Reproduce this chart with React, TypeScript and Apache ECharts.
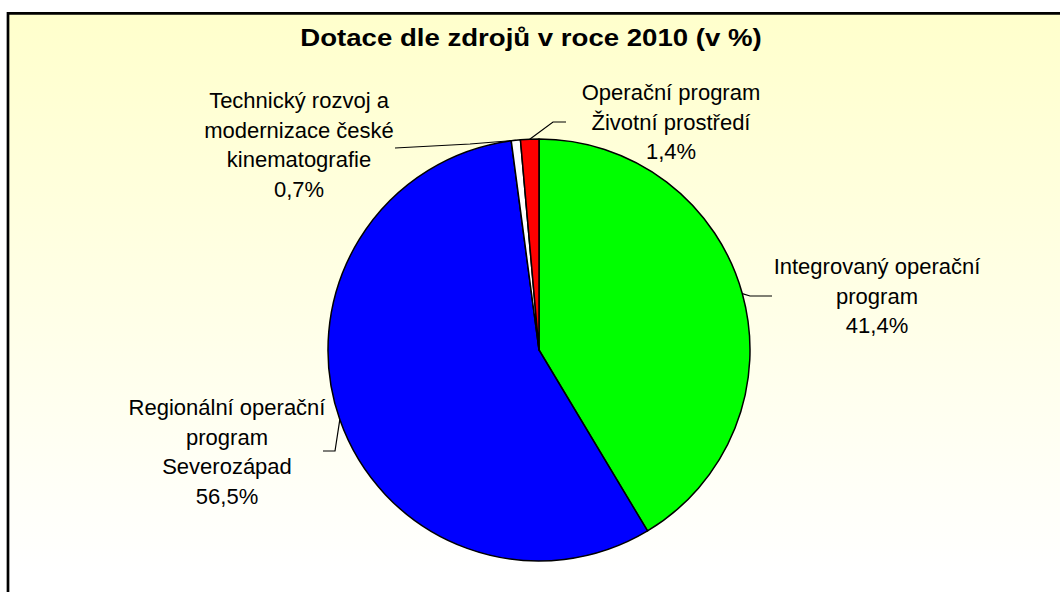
import React, { useEffect, useRef } from "react";
import * as echarts from "echarts";

const titleText = "Dotace dle zdrojů v roce 2010 (v %)";
const categories = [
  "Integrovaný operační\nprogram",
  "Regionální operační\nprogram\nSeverozápad",
  "Technický rozvoj a\nmodernizace české\nkinematografie",
  "Operační program\nŽivotní prostředí",
];
const values = [41.4, 56.5, 0.7, 1.4];
const colors = ["#00FF00", "#0000FF", "#FFFFFF", "#FF0000"];

// label placement (style / layout, not data)
const labelCenters: [number, number][] = [
  [877, 296],
  [227, 452],
  [299, 145],
  [671, 122],
];
const labelLineTails: [number, number][][] = [
  [[750, 296], [772, 296]],
  [[335, 451], [323, 451]],
  [[470, 144], [395, 148]],
  [[553, 122], [566, 122]],
];

const FONT = "'Liberation Sans', Arial, sans-serif";

export default function App() {
  const ref = useRef<HTMLDivElement>(null);
  useEffect(() => {
    if (!ref.current) return;
    const chart = echarts.init(ref.current, undefined, { renderer: "svg" });
    chart.setOption({
      animation: false,
      graphic: [
        {
          type: "rect",
          z: -10,
          silent: true,
          shape: { x: 8, y: 13.3, width: 1100, height: 700 },
          style: {
            fill: new echarts.graphic.LinearGradient(
              0, 0, 0, 1,
              [
                { offset: 0, color: "#FFFFCC" },
                { offset: 0.8, color: "#FFFFFF" },
                { offset: 1, color: "#FFFFFF" },
              ]
            ),
            stroke: "#000000",
            lineWidth: 2.7,
          },
        },
        {
          type: "text",
          z: 10,
          x: 531,
          y: 38,
          scaleX: 1.2,
          style: {
            text: titleText,
            fontFamily: FONT,
            fontWeight: "bold",
            fontSize: 23,
            fill: "#000000",
            textAlign: "center",
            textVerticalAlign: "middle",
          },
        },
      ],
      series: [
        {
          type: "pie",
          center: [539, 350],
          radius: 211,
          startAngle: 90,
          clockwise: true,
          silent: true,
          emphasis: { disabled: true },
          itemStyle: { borderColor: "#000000", borderWidth: 1.5 },
          label: {
            show: true,
            position: "outside",
            fontFamily: FONT,
            fontSize: 22,
            lineHeight: 29.5,
            color: "#000000",
            align: "center",
            formatter: (p: any) =>
              p.name + "\n" + Number(p.value).toFixed(1).replace(".", ",") + "%",
          },
          labelLine: {
            show: true,
            smooth: false,
            lineStyle: { color: "#000000", width: 1.2 },
          },
          labelLayout: (params: any) => {
            const i = params.dataIndex;
            const c = labelCenters[i];
            const start = params.labelLinePoints
              ? params.labelLinePoints[0]
              : labelLineTails[i][0];
            return {
              x: c[0],
              y: c[1],
              align: "center",
              verticalAlign: "middle",
              labelLinePoints: [start, labelLineTails[i][0], labelLineTails[i][1]],
            };
          },
          data: categories.map((name, i) => ({
            name,
            value: values[i],
            itemStyle: { color: colors[i] },
          })),
        },
      ],
    });
    return () => chart.dispose();
  }, []);
  return (
    <div
      ref={ref}
      style={{ position: "absolute", left: 0, top: 0, width: 1060, height: 592 }}
    />
  );
}
